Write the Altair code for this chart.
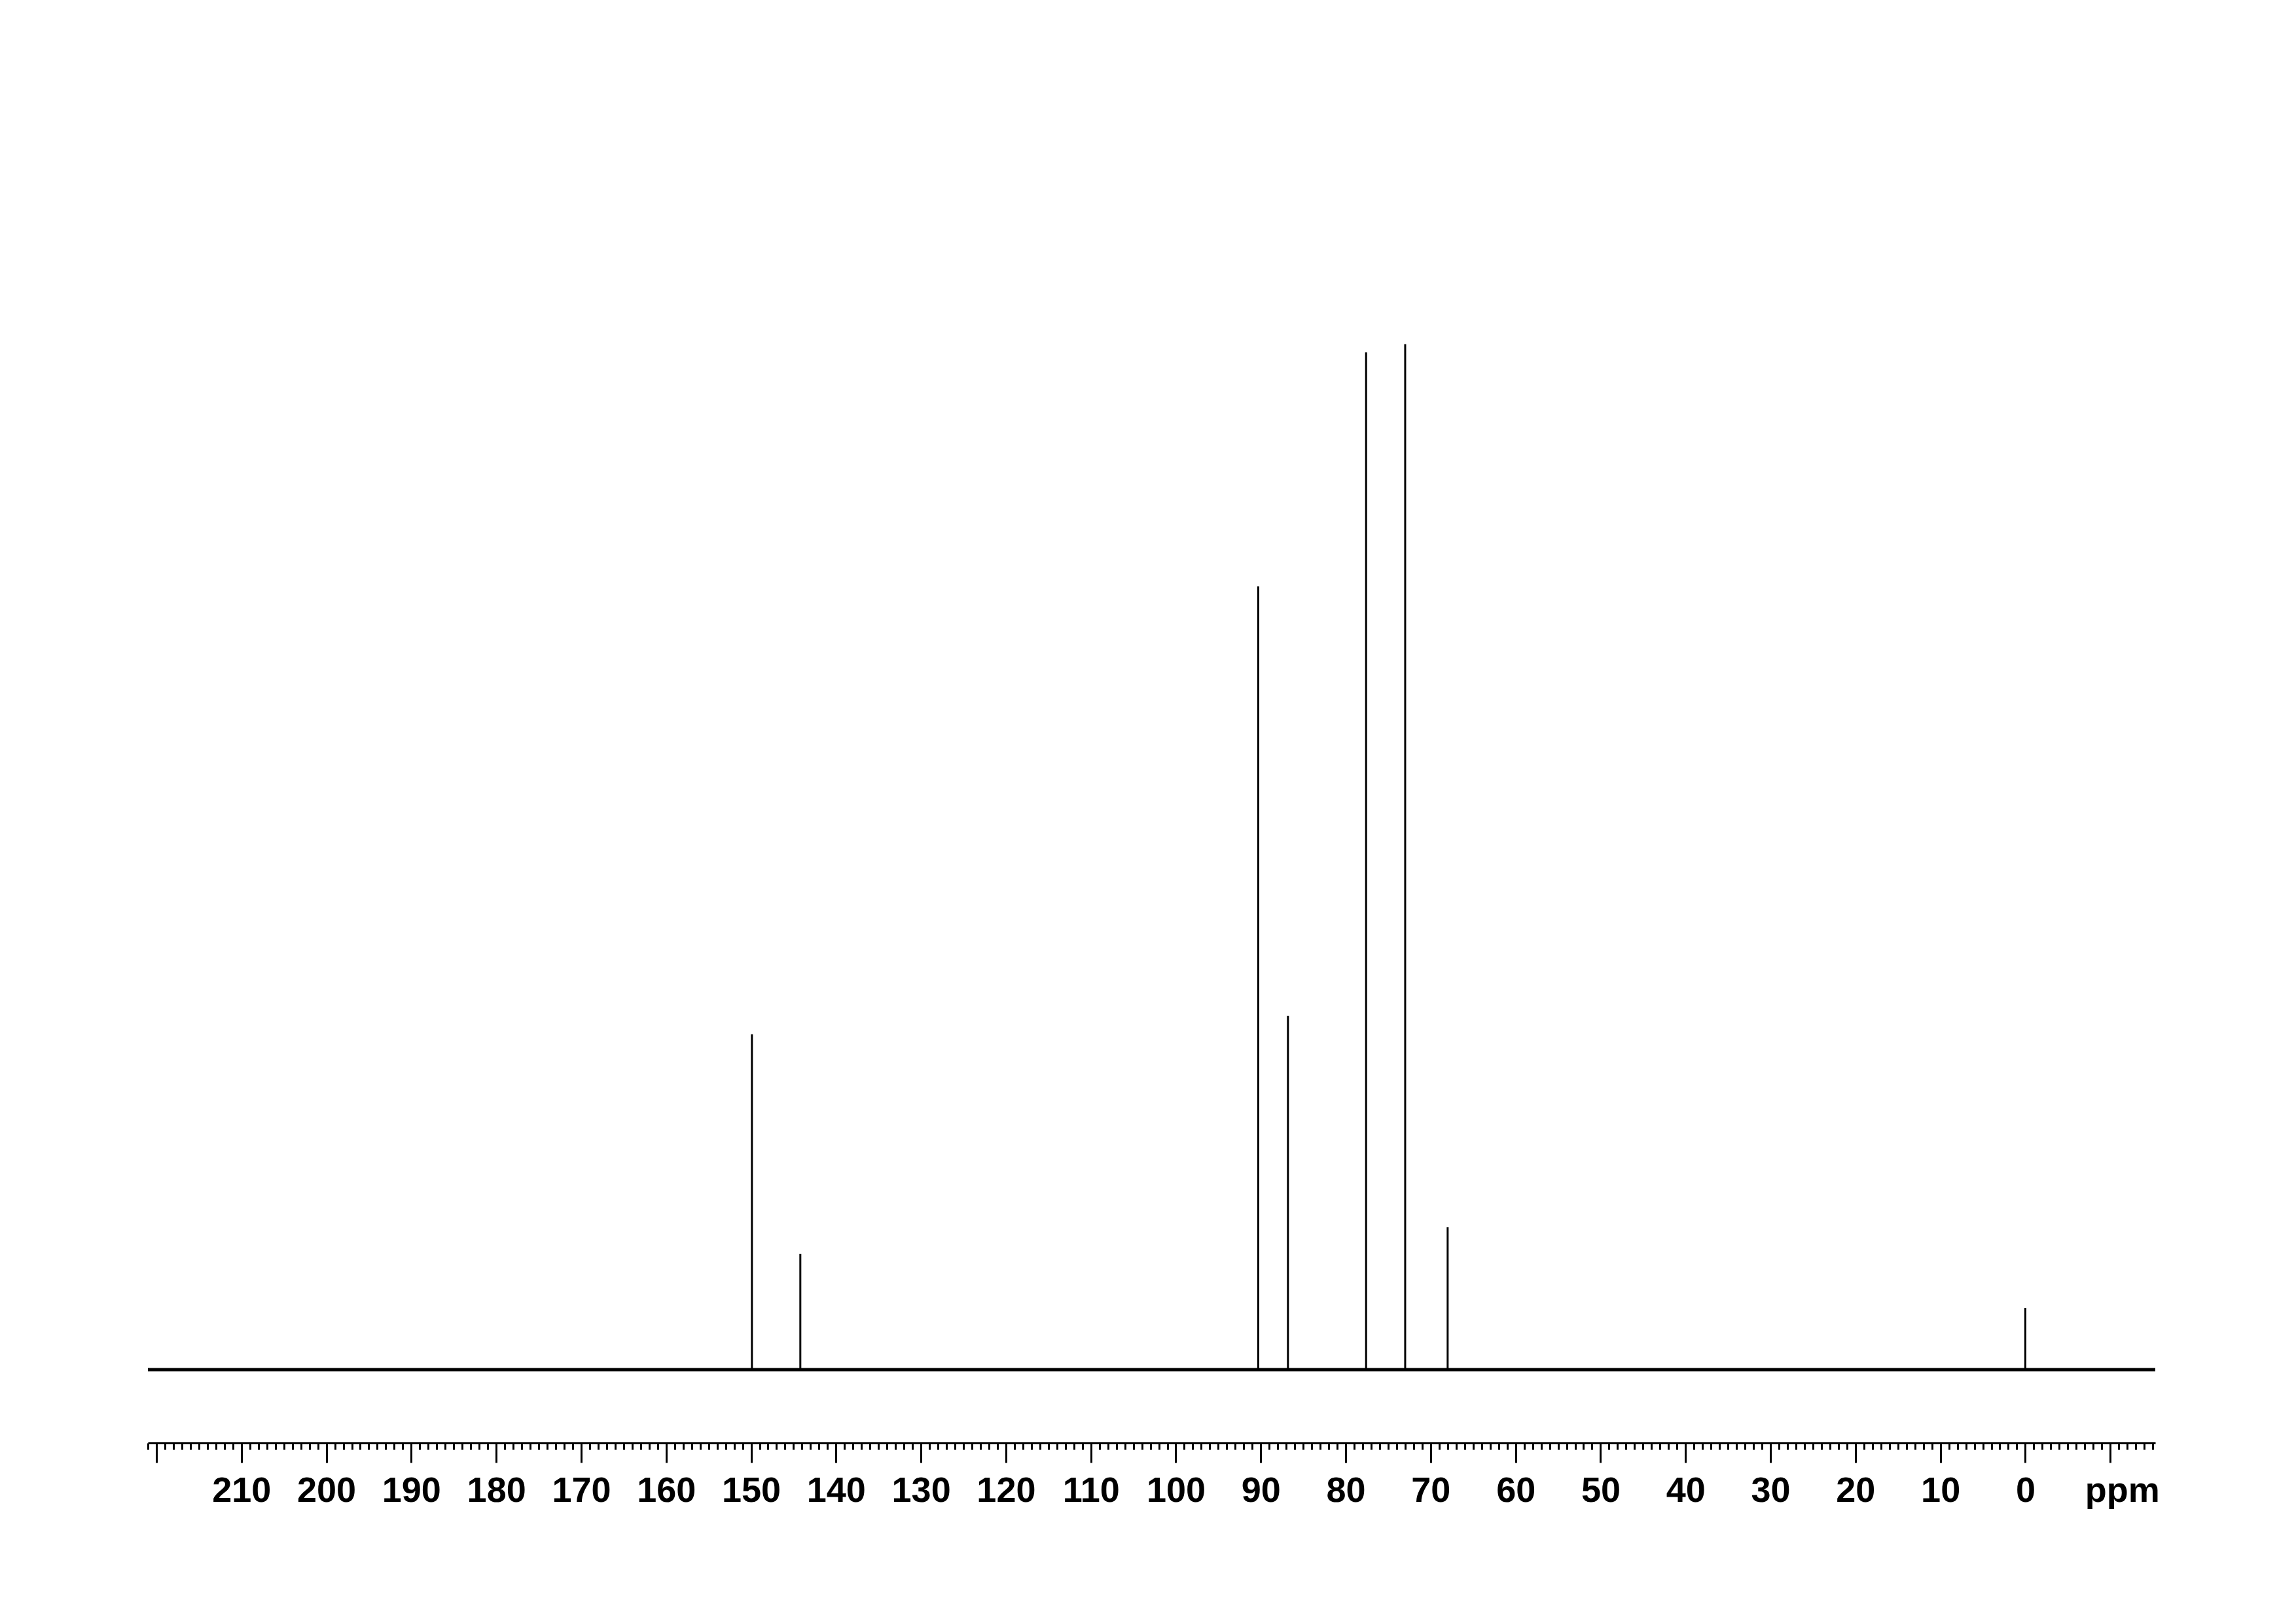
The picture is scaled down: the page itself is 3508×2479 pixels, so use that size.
import altair as alt
import pandas as pd

# spectrum extent (ppm)
ppm_start = 221.0
ppm_end = -15.3

# peaks
peak_ppm = [149.9, 144.2, 90.3, 86.8, 77.6, 73.0, 68.0, 0.0]
peak_height = [32.7, 11.3, 76.4, 34.5, 99.2, 100.0, 13.9, 6.0]

# axis ticks every 1 ppm
tick_values = list(range(221, -16, -1))

peaks = pd.DataFrame({"ppm": peak_ppm, "intensity": peak_height,
                      "base": [0.0] * len(peak_ppm)})
baseline = pd.DataFrame({"start": [ppm_start], "end": [ppm_end], "level": [0.0]})

xscale = alt.Scale(domain=[ppm_end, ppm_start], reverse=True, nice=False, zero=False)
yscale = alt.Scale(domain=[-7.15, 120.8], nice=False, zero=False)

xaxis = alt.Axis(
    values=tick_values,
    title=None,
    format="d",
    tickSize=alt.ExprRef(expr="datum.value % 10 === 0 ? 30 : 10"),
    tickWidth=3,
    tickColor="black",
    domainColor="black",
    domainWidth=3,
    labelExpr="datum.value === 220 ? '' : (datum.value === -10 ? 'ppm' : (datum.value % 10 === 0 ? datum.label : ''))",
    labelOffset=alt.ExprRef(expr="datum.value === -10 ? 18 : 0"),
    labelFont="Liberation Sans Narrow, Arial Narrow, Liberation Sans, Arial",
    labelFontWeight="bold",
    labelFontSize=54,
    labelColor="black",
    labelPadding=16,
    labelOverlap=False,
    labelFlush=False,
    labelBound=False,
    grid=False,
)

base_layer = alt.Chart(baseline).mark_rule(strokeWidth=5, color="black").encode(
    x=alt.X("start:Q", scale=xscale, axis=xaxis),
    x2="end:Q",
    y=alt.Y("level:Q", scale=yscale, axis=None),
)

peak_layer = alt.Chart(peaks).mark_rule(strokeWidth=3, color="black").encode(
    x=alt.X("ppm:Q", scale=xscale, axis=xaxis),
    y=alt.Y("base:Q", scale=yscale, axis=None),
    y2="intensity:Q",
)

chart = alt.layer(base_layer, peak_layer).properties(
    width=3067,
    height=2004,
    padding={"left": 218, "top": 192, "right": 207, "bottom": 267},
    autosize=alt.AutoSizeParams(type="none"),
    background="white",
).configure_view(stroke=None)

chart.save("out.html", embed_options={"renderer": "svg", "actions": False})
